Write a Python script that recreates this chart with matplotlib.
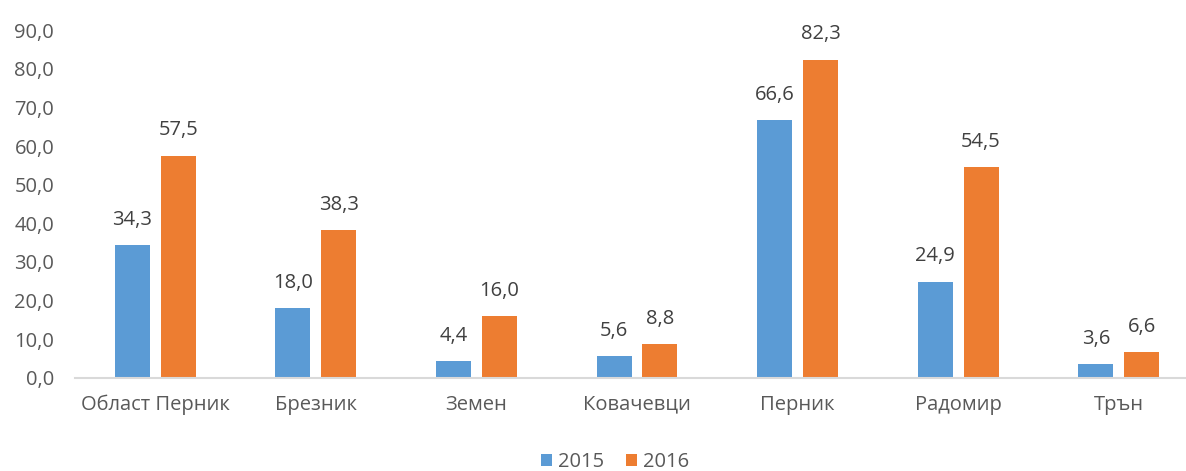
import matplotlib
matplotlib.use("Agg")
import matplotlib.pyplot as plt
import numpy as np

categories = ["Област Перник", "Брезник", "Земен", "Ковачевци", "Перник", "Радомир", "Трън"]
values_2015 = [34.3, 18.0, 4.4, 5.6, 66.6, 24.9, 3.6]
values_2016 = [57.5, 38.3, 16.0, 8.8, 82.3, 54.5, 6.6]
series_labels = ["2015", "2016"]
yticks = [0, 10, 20, 30, 40, 50, 60, 70, 80, 90]

plt.rcParams['font.family'] = ['Open Sans', 'DejaVu Sans']

W, H = 1186, 471
fig = plt.figure(figsize=(W / 100, H / 100), dpi=100)
left, right = 75, 1199
bottom, top = 378, 30
ax = fig.add_axes([left / W, 1 - bottom / H, (right - left) / W, (bottom - top) / H])

x = np.arange(len(categories))
bw = 0.218
off = 0.143
c1, c2 = "#5B9BD5", "#ED7D31"
b1 = ax.bar(x - off, values_2015, bw, color=c1, label=series_labels[0], zorder=2)
b2 = ax.bar(x + off, values_2016, bw, color=c2, label=series_labels[1], zorder=2)

fs = 14.5
for bars, vals in ((b1, values_2015), (b2, values_2016)):
    for r, v in zip(bars, vals):
        ax.annotate(f"{v:.1f}".replace(".", ","), (r.get_x() + r.get_width() / 2, v),
                    xytext=(0, 11), textcoords="offset points", ha="center", va="bottom",
                    fontsize=fs, color="#404040")

ax.set_xlim(-0.5, len(categories) - 0.5)
ax.set_ylim(0, 90)
ax.set_yticks(yticks)
ax.set_yticklabels([f"{t:.1f}".replace(".", ",") for t in yticks])
ax.set_xticks(x)
ax.set_xticklabels(categories)
ax.tick_params(axis="both", length=0, labelsize=fs, colors="#595959")
ax.tick_params(axis="x", pad=12)
ax.tick_params(axis="y", pad=15)
for s in ("top", "right", "left"):
    ax.spines[s].set_visible(False)
ax.spines["bottom"].set_color("#D9D9D9")
ax.spines["bottom"].set_linewidth(1.5)
ax.patch.set_alpha(0)

leg = fig.legend(handles=[b1, b2], labels=series_labels, loc="center",
                 bbox_to_anchor=(615 / W, 1 - 462 / H), ncol=2, frameon=False,
                 fontsize=fs, handlelength=0.55, handleheight=0.55, handletextpad=0.3,
                 columnspacing=1.1, labelcolor="#595959")

fig.savefig("out.png", dpi=100)
